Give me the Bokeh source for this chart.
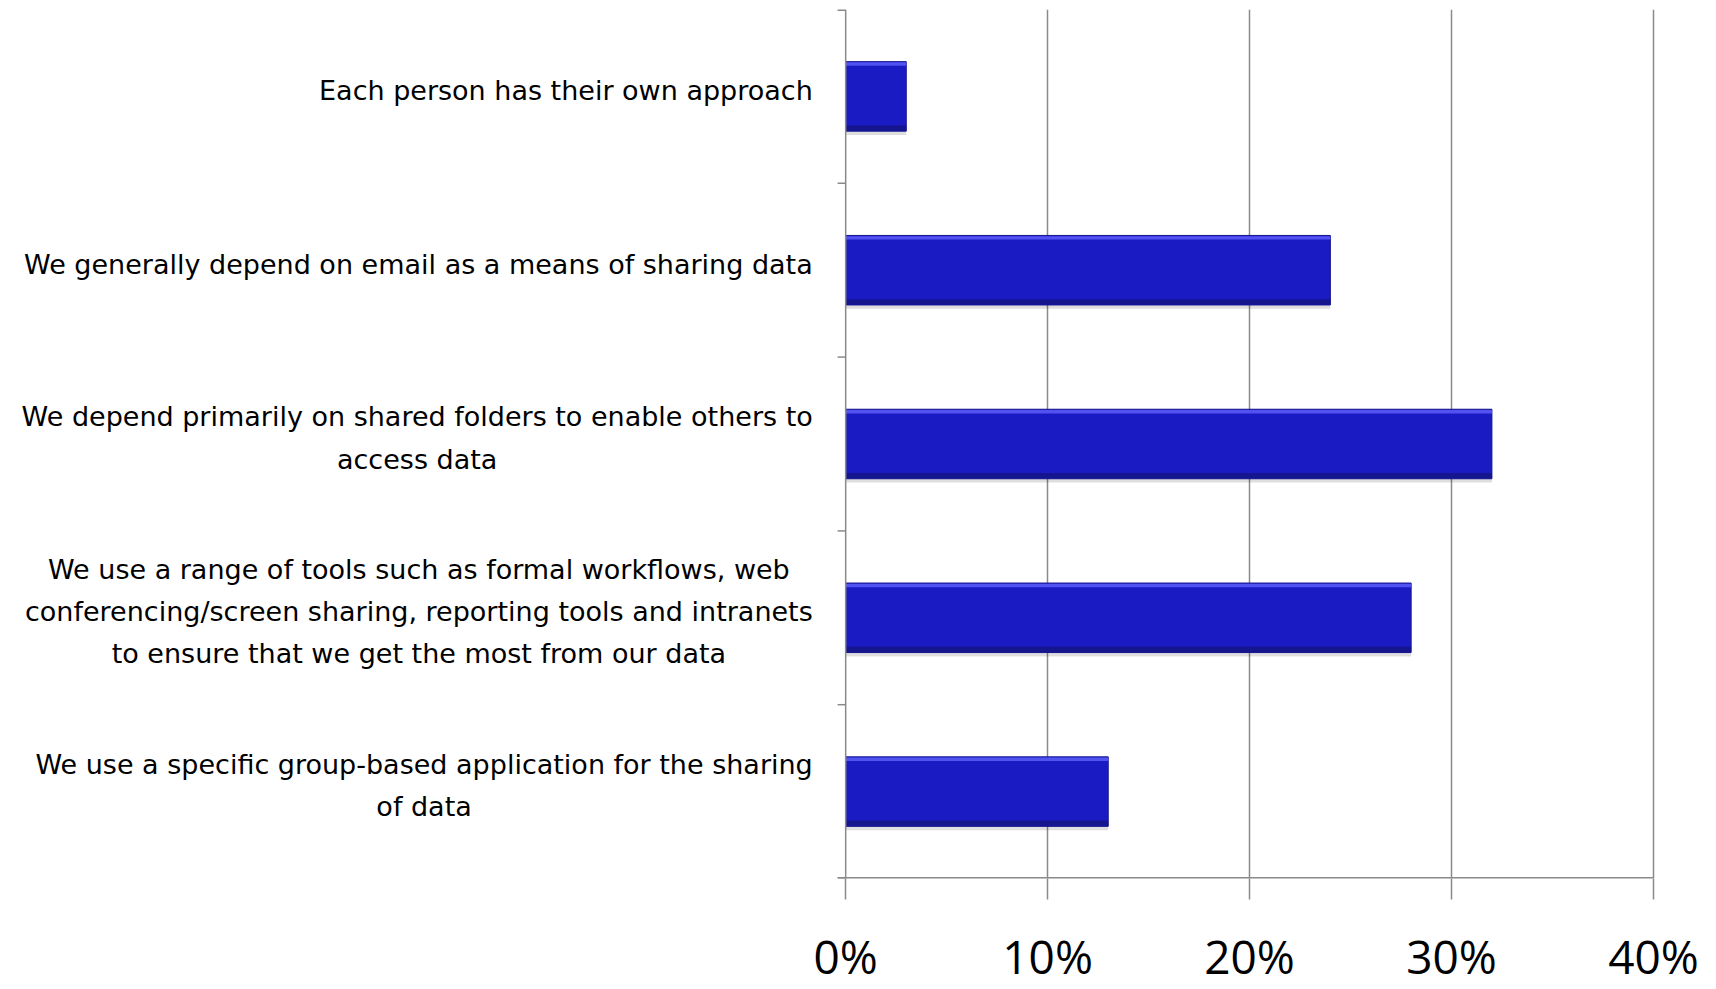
from bokeh.plotting import figure
from bokeh.models import (FactorRange, Range1d, LinearAxis, FixedTicker,
                          ColumnDataSource, Grid, Span, Label)
from bokeh.transform import dodge
from bokeh.embed import file_html
from bokeh.resources import INLINE

categories = [
    "Each person has their own approach",
    "We generally depend on email as a means of sharing data",
    "We depend primarily on shared folders to enable others to\naccess data",
    "We use a range of tools such as formal workflows, web\nconferencing/screen sharing, reporting tools and intranets\nto ensure that we get the most from our data",
    "We use a specific group-based application for the sharing\nof data",
]
values = [3, 24, 32, 28, 13]
x_ticks = [0, 10, 20, 30, 40]
x_tick_labels = ["0%", "10%", "20%", "30%", "40%"]

GRAY = "#8a8a8a"

# the frame reaches to the left edge so that the category labels sit inside it
p = figure(width=1716, height=989,
           y_range=FactorRange(factors=list(reversed(categories)), range_padding=0),
           x_range=Range1d(-41.85, 40.1),
           x_axis_location=None, y_axis_location=None,
           output_backend="svg", toolbar_location=None,
           min_border_left=0, min_border_right=61, min_border_top=9, min_border_bottom=111)
p.outline_line_color = None
p.background_fill_color = "white"
p.border_fill_color = "white"
for g in p.grid:
    g.visible = False

grid = Grid(dimension=0, ticker=FixedTicker(ticks=x_ticks[1:]),
            grid_line_color=GRAY, grid_line_width=1.5)
p.add_layout(grid)

source = ColumnDataSource(dict(cat=categories, val=values))
n = len(categories)

# vertical axis line at 0, category boundary ticks and the horizontal axis line
p.add_layout(Span(location=0, dimension="height", line_color=GRAY, line_width=1.5))
p.segment(x0=-0.4, x1=0, y0=dodge("cat", -0.5, range=p.y_range),
          y1=dodge("cat", -0.5, range=p.y_range), source=source,
          line_color=GRAY, line_width=1.5)
# edge lines lie on the frame border (half clipped), hence double width
p.segment(x0=[-0.4], x1=[0], y0=[n], y1=[n], line_color=GRAY, line_width=3)
p.segment(x0=[-0.4], x1=[x_ticks[-1]], y0=[0], y1=[0], line_color=GRAY, line_width=3)

# soft shadow
p.hbar(y=dodge("cat", -0.022, range=p.y_range), left=0, right="val", height=0.40,
       source=source, fill_color="#000000", fill_alpha=0.13, line_color=None)
# main bar
p.hbar(y="cat", left=0, right="val", height=0.40, source=source,
       fill_color="#1b1bc4", line_color="#14148c", line_width=1)
# top highlight
p.hbar(y=dodge("cat", 0.186, range=p.y_range), left=0, right="val", height=0.02,
       source=source, fill_color="#5252f0", line_color=None)
# bottom shade
p.hbar(y=dodge("cat", -0.182, range=p.y_range), left=0, right="val", height=0.03,
       source=source, fill_color="#15158e", line_color=None)

xaxis = LinearAxis(ticker=FixedTicker(ticks=x_ticks),
                   major_label_overrides={t: l for t, l in zip(x_ticks, x_tick_labels)},
                   major_tick_out=21, major_tick_in=0,
                   minor_tick_line_color=None,
                   axis_line_color=None,
                   major_tick_line_color=GRAY, major_tick_line_width=1.5,
                   major_label_text_font="Open Sans", major_label_text_font_size="46px",
                   major_label_text_color="black", major_label_standoff=25)
p.add_layout(xaxis, "below")

# category labels: block right-aligned next to the axis, lines centred within the block.
# y is the factor's position on the categorical range (first factor at the top).
for i, cat in enumerate(categories):
    p.add_layout(Label(x=-1.63, y=n - i - 0.5, text=cat, anchor="center_right",
                       text_align="center", text_baseline="middle", y_offset=6,
                       text_font="DejaVu Sans", text_font_size="27px",
                       text_color="black", text_line_height=1.36))

open("out.html", "w").write(file_html(p, INLINE))
